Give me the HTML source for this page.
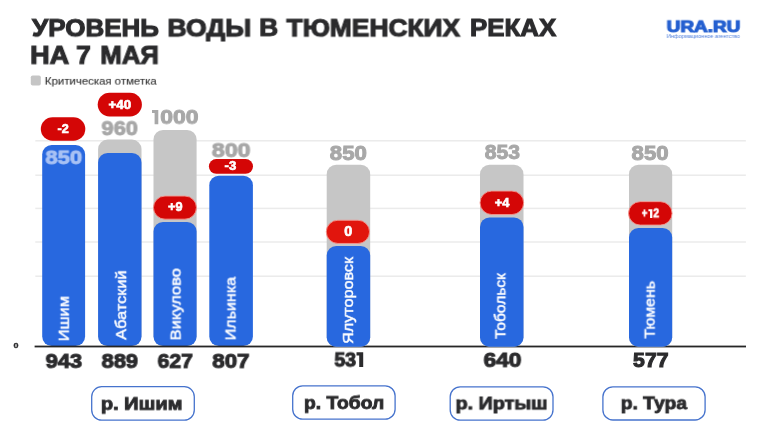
<!DOCTYPE html>
<html><head><meta charset="utf-8">
<style>
html,body{margin:0;padding:0;}
body{width:760px;height:440px;background:#fff;position:relative;overflow:hidden;font-family:"Liberation Sans",sans-serif;}
.a{position:absolute;}
.t{position:absolute;left:0;top:0;white-space:nowrap;transform-origin:0 0;will-change:transform;}
.tw{font-weight:bold;font-size:25.5px;line-height:28px;-webkit-text-stroke:1.1px;}
.crit{font-weight:bold;font-size:20px;line-height:22px;-webkit-text-stroke:0.95px;}
.val{font-weight:bold;font-size:20px;line-height:22px;-webkit-text-stroke:1.05px;}
.bt{font-weight:bold;font-size:11.5px;line-height:14px;-webkit-text-stroke:0.6px;}
.nm{font-weight:normal;font-size:15px;line-height:18px;-webkit-text-stroke:0.42px;}
.rv{font-weight:bold;font-size:17.5px;line-height:20px;-webkit-text-stroke:0.85px;}
.lg{font-weight:bold;font-size:17px;line-height:20px;-webkit-text-stroke:1.2px;}
.ls{font-weight:normal;font-size:5.6px;line-height:7px;}
.lt{font-weight:normal;font-size:11px;line-height:14px;-webkit-text-stroke:0.12px;}
.zr{font-weight:bold;font-size:7.5px;line-height:10px;-webkit-text-stroke:0.3px;}
</style></head><body>
<svg class="a" style="left:0;top:0" width="760" height="440" viewBox="0 0 760 440">
<rect x="35.3" y="140.05" width="710.6" height="1.5" fill="#ebebeb"/>
<rect x="35.3" y="174.45" width="710.6" height="1.5" fill="#ebebeb"/>
<rect x="35.3" y="207.65" width="710.6" height="1.5" fill="#ebebeb"/>
<rect x="35.3" y="241.25" width="710.6" height="1.5" fill="#ebebeb"/>
<rect x="35.3" y="275.45" width="710.6" height="1.5" fill="#ebebeb"/>
<rect x="42.2" y="145.0" width="42.90" height="201.00" rx="9.5" fill="#2868df"/>
<rect x="40.80" y="117.20" width="44.50" height="23.60" rx="11.80" fill="#d40606"/>
<rect x="98.1" y="139.6" width="43.40" height="206.40" rx="9.5" fill="#c6c6c6"/>
<rect x="98.1" y="153.0" width="43.40" height="193.00" rx="9.5" fill="#2868df"/>
<rect x="97.70" y="92.70" width="44.20" height="23.70" rx="11.85" fill="#d40606"/>
<rect x="153.5" y="130.0" width="43.10" height="216.00" rx="9.5" fill="#c6c6c6"/>
<rect x="153.5" y="221.9" width="43.10" height="124.10" rx="9.5" fill="#2868df"/>
<rect x="153.45" y="196.05" width="43.00" height="23.10" rx="11.55" fill="#d40606" stroke="#f4968e" stroke-width="0.9"/>
<rect x="209.3" y="175.7" width="43.60" height="170.30" rx="9.5" fill="#2868df"/>
<rect x="208.90" y="159.10" width="44.10" height="14.70" rx="7.35" fill="#d40606"/>
<rect x="34.6" y="345.6" width="711.4" height="1.8" fill="#262626"/>
<rect x="326.7" y="164.8" width="43.50" height="181.90" rx="9.5" fill="#c6c6c6"/>
<rect x="326.7" y="246.0" width="43.50" height="100.70" rx="9.5" fill="#2868df"/>
<rect x="326.25" y="220.25" width="43.30" height="23.20" rx="11.60" fill="#e1150d" stroke="#f4968e" stroke-width="0.9"/>
<rect x="480.0" y="164.8" width="43.50" height="181.90" rx="9.5" fill="#c6c6c6"/>
<rect x="480.0" y="217.5" width="43.50" height="129.20" rx="9.5" fill="#2868df"/>
<rect x="480.05" y="191.05" width="43.60" height="23.50" rx="11.75" fill="#d40606" stroke="#f4968e" stroke-width="0.9"/>
<rect x="629.0" y="164.8" width="43.20" height="181.90" rx="9.5" fill="#c6c6c6"/>
<rect x="629.0" y="228.0" width="43.20" height="118.70" rx="9.5" fill="#2868df"/>
<rect x="628.55" y="201.65" width="43.50" height="23.40" rx="11.70" fill="#d40606" stroke="#f4968e" stroke-width="0.9"/>
<rect x="30.8" y="75.5" width="10" height="10" rx="1.8" fill="#c5c5c5"/>
<rect x="91.70" y="386.70" width="102.60" height="33.40" rx="10" fill="#fff" stroke="#4673cd" stroke-width="1.3"/>
<rect x="292.70" y="385.80" width="102.40" height="33.40" rx="10" fill="#fff" stroke="#4673cd" stroke-width="1.3"/>
<rect x="450.20" y="386.80" width="102.80" height="33.30" rx="10" fill="#fff" stroke="#4673cd" stroke-width="1.3"/>
<rect x="602.90" y="386.80" width="102.20" height="33.20" rx="10" fill="#fff" stroke="#4673cd" stroke-width="1.3"/>
<polygon points="152.0,109.9 158.3,109.9 158.3,124.2 154.60,124.2 154.60,113.00 152.0,113.00" fill="#a8a8a8"/>
<polygon points="356.5,352.3 363.2,352.3 363.2,366.9 359.20,366.9 359.20,355.60 356.5,355.60" fill="#2b2b2d"/>
<polygon points="648.4,209.35 652.4,209.35 652.4,217.9 650.05,217.9 650.05,211.35 648.4,211.35" fill="#fff"/>
</svg>
<div class="t tw" style="transform:translate(32.02px,14.42px) scale(1.0200,0.9506);color:#2b2b2d;-webkit-text-stroke-color:#2b2b2d">УРОВЕНЬ</div>
<div class="t tw" style="transform:translate(167.45px,14.42px) scale(1.0417,0.9506);color:#2b2b2d;-webkit-text-stroke-color:#2b2b2d">ВОДЫ</div>
<div class="t tw" style="transform:translate(259.21px,13.95px) scale(1.0303,0.9506);color:#2b2b2d;-webkit-text-stroke-color:#2b2b2d">В</div>
<div class="t tw" style="transform:translate(286.51px,14.42px) scale(1.0341,0.9506);color:#2b2b2d;-webkit-text-stroke-color:#2b2b2d">ТЮМЕНСКИХ</div>
<div class="t tw" style="transform:translate(469.98px,14.18px) scale(1.0148,0.9506);color:#2b2b2d;-webkit-text-stroke-color:#2b2b2d">РЕКАХ</div>
<div class="t tw" style="transform:translate(30.17px,41.14px) scale(1.0601,0.9813);color:#2b2b2d;-webkit-text-stroke-color:#2b2b2d">НА</div>
<div class="t tw" style="transform:translate(76.18px,41.14px) scale(1.0308,0.9813);color:#2b2b2d;-webkit-text-stroke-color:#2b2b2d">7</div>
<div class="t tw" style="transform:translate(100.34px,41.14px) scale(1.0090,0.9813);color:#2b2b2d;-webkit-text-stroke-color:#2b2b2d">МАЯ</div>
<div class="t lt" style="transform:translate(44.82px,74.10px) scale(1.0359,0.9548);color:#333;-webkit-text-stroke-color:#333">Критическая отметка</div>
<div class="t lg" style="transform:translate(666.64px,17.86px) scale(1.1142,0.9358);color:#2560d0;-webkit-text-stroke-color:#2560d0">URA.RU</div>
<div class="t ls" style="transform:translate(666.70px,32.97px) scale(0.9986,1.0667);color:#4f7fdc;-webkit-text-stroke-color:#4f7fdc">Информационное агентство</div>
<div class="t zr" style="transform:translate(13.40px,340.83px) scale(1.2000,1.0667);color:#2b2b2d;-webkit-text-stroke-color:#2b2b2d">0</div>
<div class="t crit" style="transform:translate(45.53px,147.02px) scale(1.0992,0.9377);color:#a9c2f4;-webkit-text-stroke-color:#a9c2f4">850</div>
<div class="t crit" style="transform:translate(101.53px,117.36px) scale(1.0870,0.9836);color:#a8a8a8;-webkit-text-stroke-color:#a8a8a8">960</div>
<div class="t crit" style="transform:translate(160.11px,106.20px) scale(1.1481,0.9705);color:#a8a8a8;-webkit-text-stroke-color:#a8a8a8">000</div>
<div class="t crit" style="transform:translate(211.71px,139.53px) scale(1.1664,0.9639);color:#a8a8a8;-webkit-text-stroke-color:#a8a8a8">800</div>
<div class="t crit" style="transform:translate(329.82px,141.94px) scale(1.1115,1.0164);color:#a8a8a8;-webkit-text-stroke-color:#a8a8a8">850</div>
<div class="t crit" style="transform:translate(484.84px,140.82px) scale(1.0534,1.0230);color:#a8a8a8;-webkit-text-stroke-color:#a8a8a8">853</div>
<div class="t crit" style="transform:translate(631.62px,141.94px) scale(1.1084,1.0164);color:#a8a8a8;-webkit-text-stroke-color:#a8a8a8">850</div>
<div class="t val" style="transform:translate(45.73px,350.18px) scale(1.0909,0.9770);color:#2b2b2d;-webkit-text-stroke-color:#2b2b2d">943</div>
<div class="t val" style="transform:translate(101.70px,350.18px) scale(1.0857,0.9770);color:#2b2b2d;-webkit-text-stroke-color:#2b2b2d">889</div>
<div class="t val" style="transform:translate(157.64px,350.18px) scale(1.0565,0.9770);color:#2b2b2d;-webkit-text-stroke-color:#2b2b2d">627</div>
<div class="t val" style="transform:translate(212.40px,350.18px) scale(1.1121,0.9770);color:#2b2b2d;-webkit-text-stroke-color:#2b2b2d">807</div>
<div class="t val" style="transform:translate(334.40px,348.63px) scale(0.9773,0.9902);color:#2b2b2d;-webkit-text-stroke-color:#2b2b2d">53</div>
<div class="t val" style="transform:translate(483.42px,348.93px) scale(1.1359,0.9902);color:#2b2b2d;-webkit-text-stroke-color:#2b2b2d">640</div>
<div class="t val" style="transform:translate(633.10px,348.65px) scale(1.0606,1.0000);color:#2b2b2d;-webkit-text-stroke-color:#2b2b2d">577</div>
<div class="t bt" style="transform:translate(57.53px,121.60px) scale(1.0974,1.0353);color:#fff;-webkit-text-stroke-color:#fff">-2</div>
<div class="t bt" style="transform:translate(108.51px,97.15px) scale(1.1579,1.0353);color:#fff;-webkit-text-stroke-color:#fff">+40</div>
<div class="t bt" style="transform:translate(168.12px,200.00px) scale(1.1059,1.0353);color:#fff;-webkit-text-stroke-color:#fff">+9</div>
<div class="t bt" style="transform:translate(224.62px,158.60px) scale(1.1385,1.0353);color:#fff;-webkit-text-stroke-color:#fff">-3</div>
<div class="t bt" style="transform:translate(344.29px,222.97px) scale(1.2500,1.2118);color:#fff;-webkit-text-stroke-color:#fff">0</div>
<div class="t bt" style="transform:translate(494.72px,195.35px) scale(1.1154,1.0353);color:#fff;-webkit-text-stroke-color:#fff">+4</div>
<div class="t bt" style="transform:translate(641.80px,206.35px) scale(0.8160,1.0353);color:#fff;-webkit-text-stroke-color:#fff">+</div>
<div class="t bt" style="transform:translate(653.30px,206.35px) scale(0.9120,1.0353);color:#fff;-webkit-text-stroke-color:#fff">2</div>
<div class="t rv" style="transform:translate(100.84px,394.53px) scale(1.1441,0.9434);color:#2b2b2d;-webkit-text-stroke-color:#2b2b2d">р. Ишим</div>
<div class="t rv" style="transform:translate(303.97px,393.48px) scale(1.1004,0.9585);color:#2b2b2d;-webkit-text-stroke-color:#2b2b2d">р. Тобол</div>
<div class="t rv" style="transform:translate(455.55px,394.13px) scale(1.1288,0.9434);color:#2b2b2d;-webkit-text-stroke-color:#2b2b2d">р. Иртыш</div>
<div class="t rv" style="transform:translate(620.78px,393.78px) scale(1.0938,0.9585);color:#2b2b2d;-webkit-text-stroke-color:#2b2b2d">р. Тура</div>
<div class="t nm" style="transform:translate(54.86px,341.29px) rotate(-90deg) scale(1.0893,0.9907);color:#fff;-webkit-text-stroke-color:#fff">Ишим</div>
<div class="t nm" style="transform:translate(112.26px,339.73px) rotate(-90deg) scale(1.0877,0.9907);color:#fff;-webkit-text-stroke-color:#fff">Абатский</div>
<div class="t nm" style="transform:translate(166.71px,340.40px) rotate(-90deg) scale(1.1004,0.9907);color:#fff;-webkit-text-stroke-color:#fff">Викулово</div>
<div class="t nm" style="transform:translate(221.61px,340.37px) rotate(-90deg) scale(1.0718,0.9907);color:#fff;-webkit-text-stroke-color:#fff">Ильинка</div>
<div class="t nm" style="transform:translate(339.16px,343.84px) rotate(-90deg) scale(1.0770,0.9907);color:#fff;-webkit-text-stroke-color:#fff">Ялуторовск</div>
<div class="t nm" style="transform:translate(491.46px,338.90px) rotate(-90deg) scale(1.0359,0.9907);color:#fff;-webkit-text-stroke-color:#fff">Тобольск</div>
<div class="t nm" style="transform:translate(640.76px,338.60px) rotate(-90deg) scale(1.0630,0.9907);color:#fff;-webkit-text-stroke-color:#fff">Тюмень</div>
</body></html>
